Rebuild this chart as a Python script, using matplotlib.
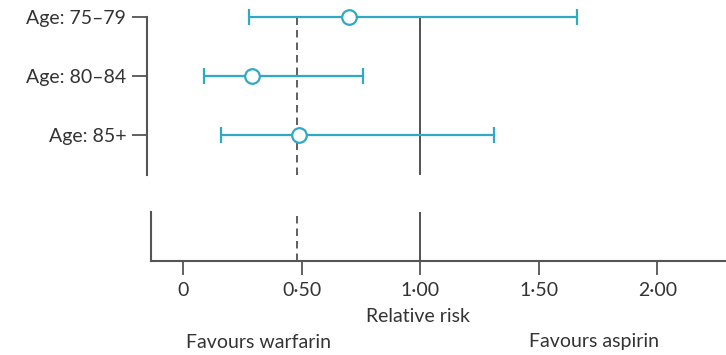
import matplotlib
matplotlib.use("Agg")
import matplotlib.pyplot as plt

# subgroup estimates (relative risk, 95% CI)
groups = ["Age: 75\u201379", "Age: 80\u201384", "Age: 85+"]
rr = [0.70, 0.29, 0.49]
ci_low = [0.28, 0.09, 0.16]
ci_high = [1.66, 0.76, 1.31]
overall_rr = 0.48

tick_vals = [0, 0.5, 1.0, 1.5, 2.0]
tick_labels = ["0", "0\u00b750", "1\u00b700", "1\u00b750", "2\u00b700"]

teal = "#2eaac6"
grey = "#555555"
txt = "#333333"

plt.rcParams["font.family"] = ["Lato", "DejaVu Sans"]
plt.rcParams["font.size"] = 14

W, H = 726, 355
fig = plt.figure(figsize=(W / 100, H / 100), dpi=100)

# top panel: subgroups
ax = fig.add_axes([147 / W, 1 - 175 / H, 579 / W, 158 / H])
ax.set_xlim(-0.152, 2.29)
ax.set_ylim(2.68, 0)
ypos = list(range(len(groups)))
err = [[r - lo for r, lo in zip(rr, ci_low)], [hi - r for r, hi in zip(rr, ci_high)]]
ax.axvline(1.0, color="#444444", lw=1.3, zorder=1)
ax.axvline(overall_rr, color="#444444", lw=1.2, ls=(0, (4.5, 3)), zorder=1)
ax.errorbar(rr, ypos, xerr=err, fmt="o", color=teal, ecolor=teal, elinewidth=1.6,
            capsize=5.5, capthick=1.6, ms=10.5, mfc="white", mec=teal, mew=1.6,
            clip_on=False, zorder=3)
for s in ["top", "right", "bottom"]:
    ax.spines[s].set_visible(False)
ax.spines["left"].set_color(grey)
ax.spines["left"].set_linewidth(1.5)
ax.set_xticks([])
ax.set_yticks(ypos)
ax.set_yticklabels(groups, color=txt)
ax.tick_params(axis="y", length=11, width=1.3, color=grey, pad=4)

# bottom panel: axis
bx = fig.add_axes([151 / W, 1 - 261 / H, 575 / W, 49 / H])
bx.set_xlim(-0.135, 2.29)
bx.set_ylim(0, 1)
bx.axvline(1.0, color="#444444", lw=1.3)
bx.axvline(overall_rr, color="#444444", lw=1.2, ls=(0, (4.5, 3)))
for s in ["top", "right"]:
    bx.spines[s].set_visible(False)
for s in ["left", "bottom"]:
    bx.spines[s].set_color(grey)
    bx.spines[s].set_linewidth(1.5)
bx.set_yticks([])
bx.set_xticks(tick_vals)
bx.set_xticklabels(tick_labels, color=txt)
bx.tick_params(axis="x", length=10, width=1.3, color=grey, pad=5)

fig.text(418 / W, 1 - 317 / H, "Relative risk", ha="center", va="center", color=txt)
fig.text(259 / W, 1 - 342 / H, "Favours warfarin", ha="center", va="center", color=txt)
fig.text(594 / W, 1 - 342 / H, "Favours aspirin", ha="center", va="center", color=txt)

fig.savefig("out.png", dpi=100)
